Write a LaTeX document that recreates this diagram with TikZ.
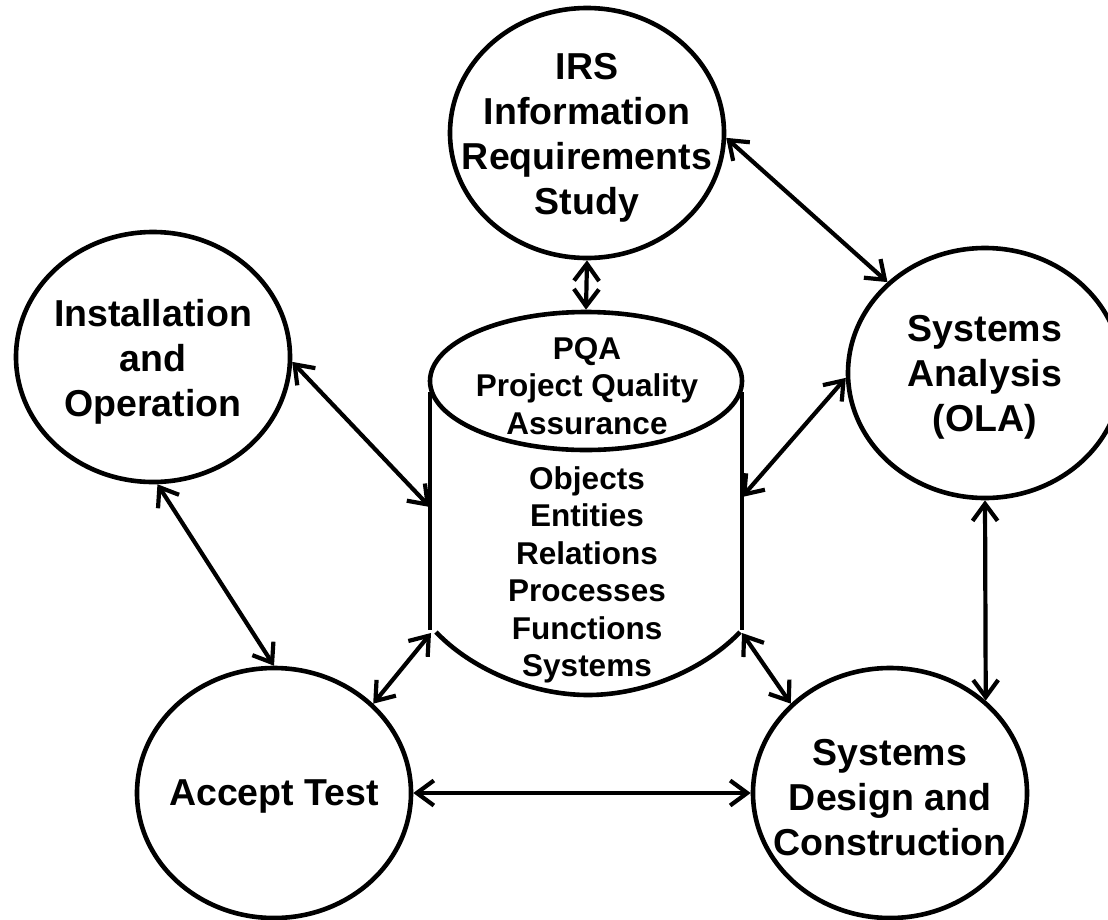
\documentclass[tikz,border=0pt]{standalone}
\usepackage{fontspec}
\setmainfont{Liberation Sans}
\usetikzlibrary{shapes.geometric,arrows.meta}
\begin{document}
\begin{tikzpicture}[x=1pt,y=-1pt,
  circ/.style={draw, ellipse, line width=4.6pt, minimum width=274pt, minimum height=250pt, inner sep=0pt},
  ctext/.style={align=center, inner sep=0pt, font=\bfseries\fontsize{37.5}{45}\selectfont},
  dtext/.style={align=center, inner sep=0pt, font=\bfseries\fontsize{31.5}{37.5}\selectfont},
  biarrow/.style={line width=4.2pt, {Straight Barb[length=17pt,width=25pt]}-{Straight Barb[length=17pt,width=25pt]}},
  cylline/.style={line width=4.6pt}]
\useasboundingbox (0,0) rectangle (1108,919);
\clip (0,0) rectangle (1108,919);
% circles
\node[circ] (IRS) at (587,133) {};
\node[ctext] (IRSt) at (587,138) {IRS\\Information\\Requirements\\Study};
\node[circ] (INST) at (153,357) {};
\node[ctext] (INSTt) at (153,362) {Installation\\and\\Operation};
\node[circ] (SA) at (985,373) {};
\node[ctext] (SAt) at (985,377) {Systems\\Analysis\\(OLA)};
\node[circ] (AT) at (274,793) {};
\node[ctext] (ATt) at (274,796) {Accept Test};
\node[circ] (SD) at (890,793) {};
\node[ctext] (SDt) at (890,798) {Systems\\Design and\\Construction};
% cylinder
\node[draw, ellipse, line width=4.6pt, minimum width=312pt, minimum height=138pt, inner sep=0pt] (PQA) at (586,381) {};
\node[dtext] (PQAt) at (587,386) {PQA\\Project Quality\\Assurance};
\draw[cylline] (430,392) -- (430,630);
\draw[cylline] (742,392) -- (742,630);
\draw[cylline] (436,632) .. controls (470,668) and (530,695) .. (588,695)
  .. controls (646,695) and (706,668) .. (740,632);
\node[dtext] (OBJt) at (587,575) {Objects\\Entities\\Relations\\Processes\\Functions\\Systems};
\coordinate (cylL) at (430,507);
\coordinate (cylR) at (742,497);
\coordinate (cylBL) at (431,633);
\coordinate (cylBR) at (742,633);
% connectors
\draw[biarrow] (IRS.-2) -- (SA.137);
\draw[biarrow] (IRS.south) -- (PQA.north);
\draw[biarrow] (INST.-2) -- (cylL);
\draw[biarrow] (SA.182) -- (cylR);
\draw[biarrow] (INST.-88) -- (AT.north);
\draw[biarrow] (SA.south) -- (SD.44);
\draw[biarrow] (cylBL) -- (AT.42);
\draw[biarrow] (cylBR) -- (SD.138);
\draw[biarrow] (AT.east) -- (SD.west);
\end{tikzpicture}
\end{document}
